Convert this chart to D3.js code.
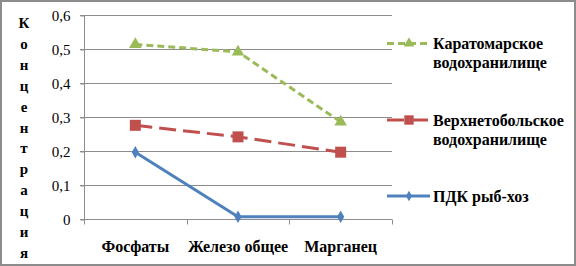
<!DOCTYPE html>
<html>
<head>
<meta charset="utf-8">
<script src="https://cdn.jsdelivr.net/npm/d3@7"></script>
<style>
    body { margin: 0; background: #fff; }
</style>
</head>
<body>
<div id="chart"></div>
<script>
// Данные графика
const categories = ["Фосфаты", "Железо общее", "Марганец"];
const karatomar = [0.515, 0.493, 0.287];
const verkhnetobol = [0.277, 0.243, 0.198];
const pdk = [0.198, 0.008, 0.008];
const yTicks = [0, 0.1, 0.2, 0.3, 0.4, 0.5, 0.6];
const yTitle = "Концентрация";

const FONT = "'Liberation Serif'";

const series = [
    { name: ["Каратомарское", "водохранилище"], values: karatomar, color: "#9BBB59", dash: "7,4", marker: "triangle", legendY: 43.5 },
    { name: ["Верхнетобольское", "водохранилище"], values: verkhnetobol, color: "#C0504D", dash: "17,7", marker: "square", legendY: 120 },
    { name: ["ПДК рыб-хоз"], values: pdk, color: "#4F81BD", dash: null, marker: "diamond", legendY: 196 }
];

const W = 576, H = 266;
const svg = d3.select("#chart").append("svg")
    .attr("width", W)
    .attr("height", H);

// Рамка
svg.append("rect")
    .attr("x", 1).attr("y", 1)
    .attr("width", W - 2).attr("height", H - 2)
    .attr("fill", "#fff")
    .attr("stroke", "#8c8c8c")
    .attr("stroke-width", 2);

const x = d3.scaleBand()
    .domain(categories)
    .range([84, 392]);

const y = d3.scaleLinear()
    .domain([0, 0.6])
    .range([219.5, 15.5]);

const fmt = d => String(d).replace(".", ",");

// Сетка
svg.append("g")
    .selectAll("line")
    .data(yTicks.filter(d => d > 0))
    .join("line")
    .attr("x1", 80).attr("x2", 392)
    .attr("y1", d => y(d)).attr("y2", d => y(d))
    .attr("stroke", "#8c8c8c")
    .attr("stroke-width", 1);

// Ось Y
const yAxis = svg.append("g")
    .attr("transform", "translate(84.5,0)")
    .call(d3.axisLeft(y).tickValues(yTicks).tickFormat(fmt).tickSize(4).tickPadding(10));
yAxis.select(".domain").attr("stroke", "#8c8c8c").attr("d", `M0,${y(0.6)}V${y(0)}`);
yAxis.selectAll(".tick line").attr("stroke", "#8c8c8c");
yAxis.selectAll(".tick text")
    .attr("fill", "#000")
    .attr("font-family", FONT)
    .attr("font-size", 15);

// Ось X
const xAxis = svg.append("g")
    .attr("transform", `translate(0,${y(0)})`)
    .call(d3.axisBottom(x).tickSize(0).tickPadding(21));
xAxis.select(".domain").attr("stroke", "#8c8c8c").attr("d", "M80,0H392");
xAxis.selectAll(".tick text")
    .attr("fill", "#000")
    .attr("font-family", FONT)
    .attr("font-size", 16)
    .attr("font-weight", "bold");

// Засечки между категориями
svg.append("g")
    .selectAll("line")
    .data(categories.map(c => x(c)).concat([x.range()[1]]))
    .join("line")
    .attr("x1", d => Math.round(d) + 0.5).attr("x2", d => Math.round(d) + 0.5)
    .attr("y1", y(0)).attr("y2", y(0) + 5)
    .attr("stroke", "#8c8c8c");

// Подпись оси Y (вертикальные буквы)
svg.append("g")
    .selectAll("text")
    .data(yTitle.split(""))
    .join("text")
    .attr("text-anchor", "middle")
    .attr("font-family", FONT)
    .attr("font-size", 15)
    .attr("font-weight", "bold")
    .attr("x", 24)
    .attr("y", (d, i) => 28 + i * 20.9)
    .text(d => d);

const cx = c => x(c) + x.bandwidth() / 2;

function drawMarker(g, type, px, py, color, k) {
    if (type === "triangle") {
        g.append("path")
            .attr("d", d3.symbol().type(d3.symbolTriangle).size(68 * k * k)())
            .attr("transform", `translate(${px},${py})`)
            .attr("fill", color);
    } else if (type === "square") {
        const s = 11 * k;
        g.append("rect")
            .attr("x", px - s / 2).attr("y", py - s / 2)
            .attr("width", s).attr("height", s)
            .attr("fill", color);
    } else {
        g.append("path")
            .attr("d", d3.symbol().type(d3.symbolDiamond).size(45 * k * k)())
            .attr("transform", `translate(${px},${py})`)
            .attr("fill", color);
    }
}

const line = d3.line()
    .x((d, i) => cx(categories[i]))
    .y(d => y(d));

series.forEach(s => {
    const g = svg.append("g");
    g.append("path")
        .datum(s.values)
        .attr("d", line)
        .attr("fill", "none")
        .attr("stroke", s.color)
        .attr("stroke-width", 3)
        .attr("stroke-dasharray", s.dash);
    s.values.forEach((v, i) => drawMarker(g, s.marker, cx(categories[i]), y(v), s.color, 1));

    // Легенда
    const lg = svg.append("g");
    lg.append("line")
        .attr("x1", 387).attr("x2", 430)
        .attr("y1", s.legendY).attr("y2", s.legendY)
        .attr("stroke", s.color)
        .attr("stroke-width", 3)
        .attr("stroke-dasharray", s.dash);
    drawMarker(lg, s.marker, 409, s.legendY, s.color, 0.85);
    lg.selectAll("text")
        .data(s.name)
        .join("text")
        .attr("font-family", FONT)
        .attr("font-size", 16)
        .attr("font-weight", "bold")
        .attr("x", 433)
        .attr("y", (d, i) => s.legendY + 5.5 + i * 19)
        .text(d => d);
});
</script>
</body>
</html>
